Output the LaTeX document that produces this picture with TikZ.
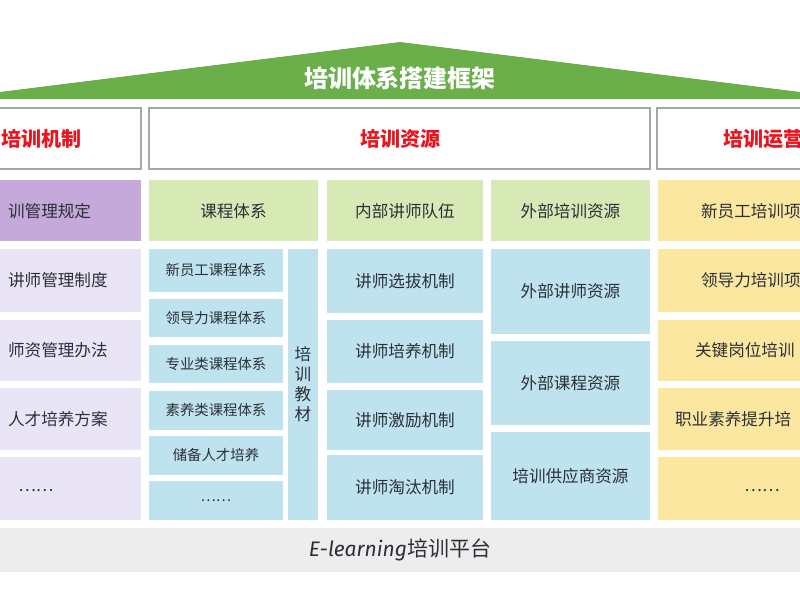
\documentclass[tikz,border=0pt]{standalone}
\usepackage{fontspec}
\setmainfont{Noto Sans CJK SC}
\newfontfamily\latfont{Fira Sans}
\usetikzlibrary{positioning}
\definecolor{roofgreen}{HTML}{6AAF4A}
\definecolor{headred}{HTML}{E8141E}
\definecolor{txt}{HTML}{2B3038}
\definecolor{purp}{HTML}{C4A9DA}
\definecolor{lav}{HTML}{E9E5F6}
\definecolor{lgreen}{HTML}{D7EAB6}
\definecolor{lblue}{HTML}{BFE3EE}
\definecolor{yel}{HTML}{FBE79F}
\definecolor{plat}{HTML}{EDEDED}
\begin{document}
\begin{tikzpicture}
  [
    x=0.5pt,y=-0.5pt,
    head/.style={draw=black!35,line width=0.8pt,fill=white},
    headtxt/.style={text=headred,font=\fontsize{10}{12}\selectfont\bfseries},
    lbl/.style={text=txt,font=\fontsize{8.3}{10}\selectfont},
    sml/.style={text=txt,font=\fontsize{7.2}{9}\selectfont}
  ]
  \useasboundingbox (0,0) rectangle (800,600);
  \clip (0,0) rectangle (800,600);
  % roof
  \fill [roofgreen] (0,92) -- (400,42) -- (800,92) -- (800,99) -- (0,99) -- cycle;
  \node (title) [text=white,font=\fontsize{12}{14}\selectfont\bfseries] at (400,78) {培训体系搭建框架};
  % headers
  \draw [head] (-5,108) rectangle (141,169);
  \draw [head] (149,108) rectangle (650,169);
  \draw [head] (657,108) rectangle (805,169);
  \node (mech) [headtxt,anchor=west] at (-6,139) {培训机制};
  \node (res) [headtxt] at (400,139) {培训资源};
  \node (ops) [headtxt,anchor=west] at (716,139) {培训运营};
  % first row
  \fill [purp] (-5,180) rectangle (141,241);
  \fill [lgreen] (149,180) rectangle (318,241);
  \fill [lgreen] (327,180) rectangle (483,241);
  \fill [lgreen] (491,180) rectangle (650,241);
  \fill [yel] (658,180) rectangle (805,241);
  \node (m0) [lbl,anchor=west] at (1,211) {训管理规定};
  \node (kc) [lbl] at (233.5,211) {课程体系};
  \node (nb) [lbl] at (405,211) {内部讲师队伍};
  \node (wb) [lbl] at (570.5,211) {外部培训资源};
  \node (o0) [lbl,anchor=west] at (694,211) {新员工培训项};
  % mechanism column
  \foreach \ya/\yb/\t in {249/312/讲师管理制度,320/381/师资管理办法,388/450/人才培养方案} {
    \fill [lav] (-5,\ya) rectangle (141,\yb);
    \node [lbl,anchor=west] at (1,{(\ya+\yb)/2}) {\t};
  }
  \fill [lav] (-5,457) rectangle (141,520);
  \node (mdots) [lbl] at (36,491) {……};
  % course column
  \foreach \ya/\yb/\t in {249/292/新员工课程体系,299/337/领导力课程体系,345/383/专业类课程体系,391/430/素养类课程体系,436/475/储备人才培养,481/520/……} {
    \fill [lblue] (149,\ya) rectangle (283,\yb);
    \node [sml] at (216,{(\ya+\yb)/2}) {\t};
  }
  \fill [lblue] (288,249) rectangle (318,520);
  \node (jc) [lbl,align=center] at (303,384) {培\\训\\教\\材};
  % lecturer column
  \foreach \ya/\yb/\t in {249/313/讲师选拔机制,320/383/讲师培养机制,390/450/讲师激励机制,455/520/讲师淘汰机制} {
    \fill [lblue] (327,\ya) rectangle (483,\yb);
    \node [lbl] at (405,{(\ya+\yb)/2}) {\t};
  }
  % external column
  \foreach \ya/\yb/\t in {249/334/外部讲师资源,341/425/外部课程资源,432/520/培训供应商资源} {
    \fill [lblue] (491,\ya) rectangle (650,\yb);
    \node [lbl] at (570.5,{(\ya+\yb)/2}) {\t};
  }
  % operations column
  \foreach \ya/\yb/\x/\t in {249/312/694/领导力培训项,320/381/688/关键岗位培训,388/450/668/职业素养提升培} {
    \fill [yel] (658,\ya) rectangle (805,\yb);
    \node [lbl,anchor=west] at (\x,{(\ya+\yb)/2}) {\t};
  }
  \fill [yel] (658,457) rectangle (805,520);
  \node (odots) [lbl] at (762,491) {……};
  % platform
  \fill [plat] (-5,528) rectangle (805,572);
  \node (elearn) [text=txt,font=\fontsize{10.5}{12}\selectfont] at (400,550) {{\latfont\itshape E-learning}培训平台};
\end{tikzpicture}
\end{document}
